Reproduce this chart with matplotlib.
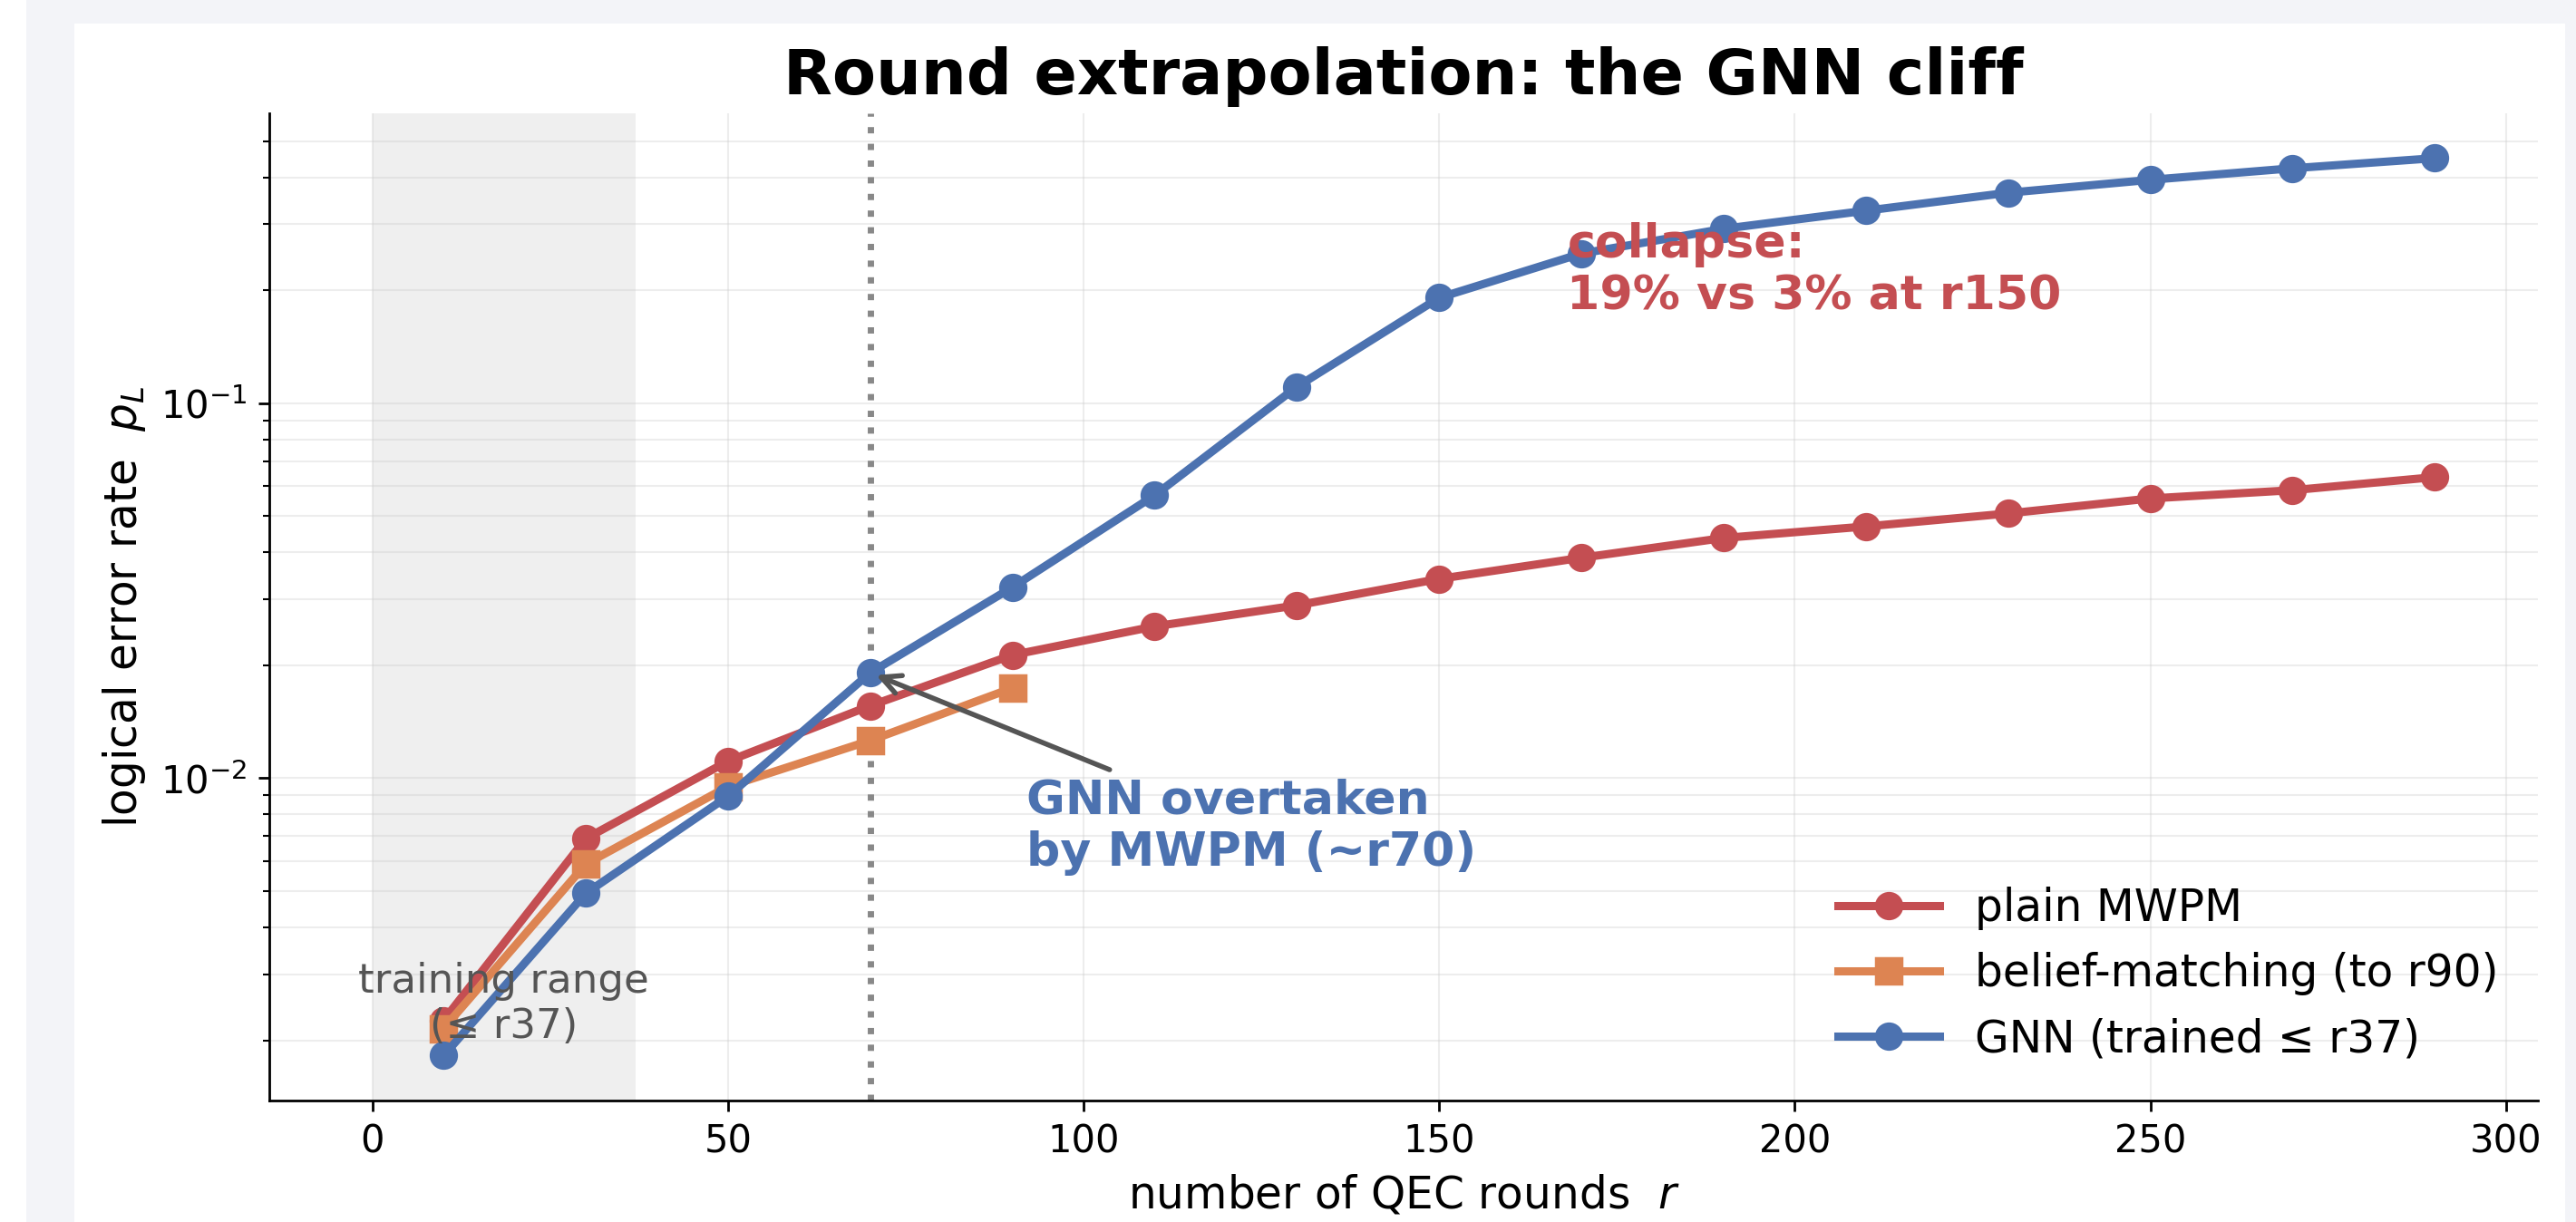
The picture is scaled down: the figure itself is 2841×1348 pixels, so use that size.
import matplotlib
matplotlib.use('Agg')
import matplotlib.pyplot as plt
from matplotlib.patches import Rectangle

# rounds and logical error rates
rounds = [10, 30, 50, 70, 90, 110, 130, 150, 170, 190, 210, 230, 250, 270, 290]
mwpm = [0.00226, 0.0069, 0.0111, 0.0156, 0.0213, 0.0254, 0.0289, 0.0340, 0.0387,
        0.0437, 0.0469, 0.0508, 0.0557, 0.0586, 0.0635]
bm_rounds = [10, 30, 50, 70, 90]
bm = [0.00215, 0.0059, 0.0095, 0.0126, 0.0174]
gnn = [0.00182, 0.00493, 0.00895, 0.0191, 0.0323, 0.0568, 0.1106, 0.191, 0.2506,
       0.2917, 0.326, 0.364, 0.394, 0.423, 0.450]

red = '#C44E52'
orange = '#DD8452'
blue = '#4C72B0'

W, H, DPI = 2841, 1348, 250
fig = plt.figure(figsize=(W / DPI, H / DPI), dpi=DPI, facecolor='white')

# page background + white card behind the plot
fig.patches.append(Rectangle((29 / W, 0), 1 - 29 / W, 1, transform=fig.transFigure,
                             facecolor='#f3f4f8', edgecolor='none', zorder=-10))
fig.patches.append(Rectangle((82 / W, 0), (2829 - 82) / W, (H - 26) / H, transform=fig.transFigure,
                             facecolor='white', edgecolor='none', zorder=-9))

ax = fig.add_axes([297 / W, 1 - 1214 / H, (2799 - 297) / W, (1214 - 125) / H])
ax.patch.set_alpha(0)

ax.axvspan(0, 37, color='gray', alpha=0.12, lw=0)
ax.axvline(70, color='#888888', ls=':', lw=2)

ax.plot(rounds, mwpm, '-o', color=red, lw=2.6, ms=8, label='plain MWPM')
ax.plot(bm_rounds, bm, '-s', color=orange, lw=2.6, ms=8, label='belief-matching (to r90)')
ax.plot(rounds, gnn, '-o', color=blue, lw=2.6, ms=8, label='GNN (trained ≤ r37)')

ax.set_yscale('log')
ax.grid(True, which='both', color='#cccccc', alpha=0.35, lw=0.6)
ax.spines['top'].set_visible(False)
ax.spines['right'].set_visible(False)
ax.tick_params(labelsize=12)

ax.text(18.5, 0.0025, 'training range\n(≤ r37)', ha='center', va='center',
        fontsize=13, color='#555555')
ax.text(168, 0.225, 'collapse:\n19% vs 3% at r150', ha='left', va='center',
        fontsize=15, fontweight='bold', color=red)
ax.annotate('GNN overtaken\nby MWPM (~r70)', xy=(70, 0.0191), xytext=(92, 0.0074),
            ha='left', va='center', fontsize=15, fontweight='bold', color=blue,
            arrowprops=dict(arrowstyle='->', color='#555555', lw=1.6))

ax.set_xlabel('number of QEC rounds  $r$', fontsize=14)
ax.set_ylabel('logical error rate  $p_L$', fontsize=14)
ax.set_title('Round extrapolation: the GNN cliff', fontsize=20.2, fontweight='bold')
ax.legend(loc='lower right', frameon=False, fontsize=14, handlelength=2.3)

fig.savefig('out.png', dpi=DPI)
